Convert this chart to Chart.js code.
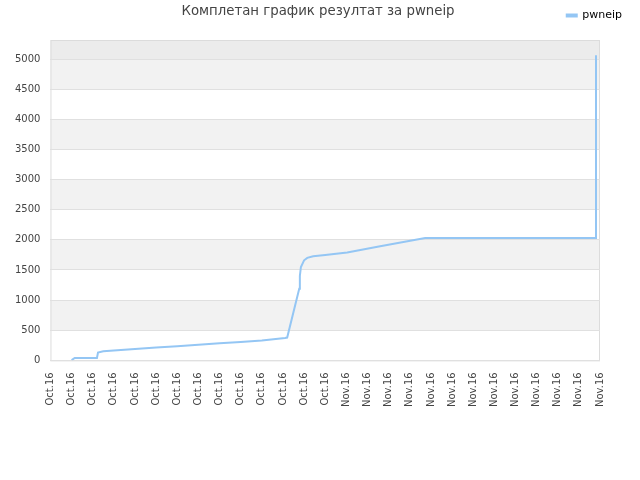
<!DOCTYPE html>
<html>
  <head>
    <meta charset="UTF-8">
    <style>
      body { margin: 0; background: #fff; }
      #wrap { width: 640px; height: 480px; }
    </style>
  </head>
  <body>
    <div id="wrap"><canvas id="score"></canvas></div>

    <script src="https://cdn.jsdelivr.net/npm/chart.js@4.4.0/dist/chart.umd.min.js"></script>
    <script type="text/javascript">

      const TITLE = 'Комплетан график резултат за pwneip';
      const SERIES_NAME = 'pwneip';

      // x tick labels (one per tick, 0..26)
      const tickLabels = [
        'Oct.16', 'Oct.16', 'Oct.16', 'Oct.16', 'Oct.16', 'Oct.16', 'Oct.16',
        'Oct.16', 'Oct.16', 'Oct.16', 'Oct.16', 'Oct.16', 'Oct.16', 'Oct.16',
        'Nov.16', 'Nov.16', 'Nov.16', 'Nov.16', 'Nov.16', 'Nov.16', 'Nov.16',
        'Nov.16', 'Nov.16', 'Nov.16', 'Nov.16', 'Nov.16', 'Nov.16'
      ];
      const yTicks = [0, 500, 1000, 1500, 2000, 2500, 3000, 3500, 4000, 4500, 5000];

      // score over time, x in tick units
      const timeX = [1.0, 1.15, 2.2, 2.25, 2.5, 3, 4, 5, 6, 7, 8, 9, 10, 11.1, 11.2,
                     11.77, 11.8, 11.85, 12.0, 12.15, 12.43, 13, 14.04, 15.6, 17.73, 25.8, 25.81];
      const scores = [5, 40, 40, 130, 150, 165, 190, 212, 235, 258, 282, 306, 330, 372, 378,
                      1190, 1400, 1550, 1660, 1700, 1728, 1750, 1789, 1894, 2030, 2030, 5065];

      const Y_MAX = 5316;

      var chart_data = [];
      for (var i = 0; i < timeX.length; i++) {
        chart_data.push({x: timeX[i], y: scores[i]});
      }

      // alternating band fill behind the plot
      const bands = {
        id: 'bands',
        beforeDraw(chart) {
          const ctx = chart.ctx;
          const area = chart.chartArea;
          const y = chart.scales.y;
          ctx.save();
          for (var k = 1; k < yTicks.length - 1; k += 2) {
            var top = y.getPixelForValue(yTicks[k + 1]);
            var bottom = y.getPixelForValue(yTicks[k]);
            ctx.fillStyle = '#f2f2f2';
            ctx.fillRect(area.left, top, area.right - area.left, bottom - top);
          }
          ctx.fillStyle = '#ececec';
          var t = y.getPixelForValue(Y_MAX), b = y.getPixelForValue(yTicks[yTicks.length - 1]);
          ctx.fillRect(area.left, t, area.right - area.left, b - t);
          // border
          ctx.strokeStyle = '#dcdcdc';
          ctx.lineWidth = 1;
          ctx.strokeRect(area.left + 0.5, area.top + 0.5, area.right - area.left - 1, area.bottom - area.top);
          ctx.restore();
        }
      };

      // title drawn on the same row as the legend
      const titleRow = {
        id: 'titleRow',
        afterDraw(chart) {
          const ctx = chart.ctx;
          ctx.save();
          ctx.font = '13.3px "DejaVu Sans"';
          ctx.fillStyle = '#444';
          ctx.textAlign = 'center';
          ctx.textBaseline = 'middle';
          ctx.fillText(TITLE, chart.width / 2 - 2, 12);
          ctx.restore();
        }
      };

      Chart.defaults.font.family = '"DejaVu Sans"';
      Chart.defaults.font.size = 10;
      Chart.defaults.color = '#444';

      function emptyAxis(pos, size) {
        return {
          position: pos,
          grid: { display: false, drawTicks: false },
          border: { display: false },
          ticks: { display: false },
          afterFit: function (scale) {
            if (pos === 'top') scale.height = size; else scale.width = size;
          }
        };
      }

      new Chart(document.getElementById('score'), {
        type: 'line',
        data: {
          datasets: [{
            label: SERIES_NAME,
            data: chart_data,
            borderColor: '#94c6f4',
            backgroundColor: '#94c6f4',
            borderWidth: 2,
            pointRadius: 0,
            fill: false,
            tension: 0
          }]
        },
        options: {
          responsive: true,
          maintainAspectRatio: false,
          animation: false,
          layout: { padding: { left: 5, right: 8, top: 0, bottom: 61 } },
          plugins: {
            title: { display: false },
            tooltip: { enabled: false },
            legend: {
              position: 'top',
              align: 'end',
              labels: {
                boxWidth: 10,
                boxHeight: 2,
                color: '#000',
                font: { size: 11 },
                padding: 10
              }
            }
          },
          scales: {
            x: {
              type: 'linear',
              min: 0,
              max: tickLabels.length - 1,
              grid: { display: false, drawTicks: false },
              border: { display: false },
              ticks: {
                stepSize: 1,
                autoSkip: false,
                maxRotation: 90,
                minRotation: 90,
                padding: 12,
                callback: function (v) { return tickLabels[v]; }
              }
            },
            y: {
              min: 0,
              max: Y_MAX,
              grid: { color: '#e0e0e0', drawTicks: false },
              border: { display: false },
              afterBuildTicks: function (scale) {
                scale.ticks = yTicks.map(function (v) { return {value: v}; });
              },
              ticks: {
                padding: 10,
                callback: function (v) { return v; }
              }
            },
            spacerRight: emptyAxis('right', 32),
            spacerTop: Object.assign(emptyAxis('top', 9), { type: 'linear', axis: 'x' })
          }
        },
        plugins: [bands, titleRow]
      });

    </script>
  </body>
</html>
